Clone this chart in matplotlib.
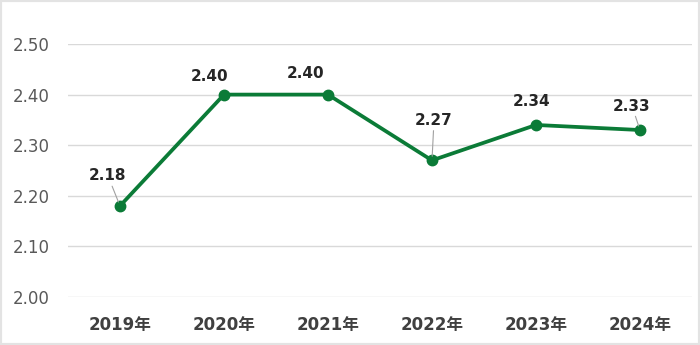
import matplotlib
matplotlib.use("Agg")
import matplotlib.pyplot as plt
from matplotlib.patches import Rectangle

years = ["2019年", "2020年", "2021年", "2022年", "2023年", "2024年"]
values = [2.18, 2.40, 2.40, 2.27, 2.34, 2.33]
labels = ["2.18", "2.40", "2.40", "2.27", "2.34", "2.33"]
yticks = [2.00, 2.10, 2.20, 2.30, 2.40, 2.50]

plt.rcParams['font.family'] = ['DejaVu Sans', 'Noto Sans CJK JP']

W, H = 700, 345
fig = plt.figure(figsize=(7, 3.45), dpi=100)
ax = fig.add_axes([68 / W, (H - 297) / H, (692 - 68) / W, (297 - 44) / H])

x = list(range(len(values)))
green = '#0b7b37'
ax.plot(x, values, color=green, lw=2.7, marker='o', markersize=7.5,
        solid_joinstyle='round', zorder=3, clip_on=False)

ax.set_xlim(-0.5, len(values) - 0.5)
ax.set_ylim(2.0, 2.5)
ax.set_yticks(yticks)
ax.set_yticklabels([f"{v:.2f}" for v in yticks], fontsize=12, color='#595959')
ax.set_xticks(x)
ax.set_xticklabels(years, fontsize=12, fontweight='bold', color='#404040')
ax.tick_params(axis='both', length=0)
ax.tick_params(axis='y', pad=13)
ax.tick_params(axis='x', pad=14)
ax.grid(axis='y', color='#d9d9d9', lw=1)
ax.set_axisbelow(True)
for s in ax.spines.values():
    s.set_visible(False)

# label offsets (pixels) and whether a leader line is drawn
offsets = [(-12, 30), (-14, 18), (-22, 21), (2, 40), (-4, 23), (-8, 24)]
leaders = [True, False, False, True, False, True]
for xi, v, lab, (dx, dy), ld in zip(x, values, labels, offsets, leaders):
    kw = {}
    if ld:
        kw['arrowprops'] = dict(arrowstyle='-', color='#a0a0a0', lw=0.8,
                                shrinkA=0, shrinkB=3)
    ax.annotate(lab, xy=(xi, v), xytext=(dx, dy), textcoords='offset pixels',
                ha='center', va='center', fontsize=11, fontweight='bold',
                color='#262626', zorder=4, **kw)

fig.patches.append(Rectangle((0, 0), 1, 1, transform=fig.transFigure,
                             fill=False, edgecolor='#e3e3e3', lw=3))

fig.savefig("out.png", dpi=100)
